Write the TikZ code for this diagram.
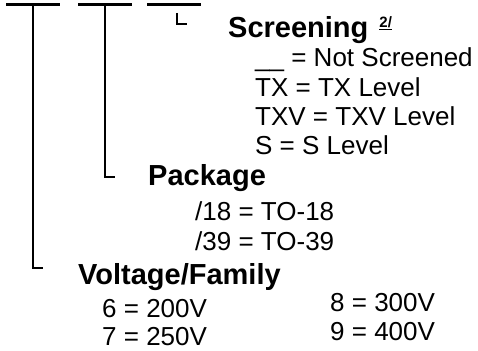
\documentclass[tikz,border=0pt]{standalone}
\usepackage{fontspec}
\setmainfont{Liberation Sans}
\begin{document}
\begin{tikzpicture}[x=1pt, y=-1pt,
    bar/.style={fill=black, inner sep=0pt, minimum width=54pt, minimum height=3pt},
    head/.style={anchor=base west, inner sep=0pt, font=\fontsize{29}{32}\bfseries},
    entry/.style={anchor=base west, inner sep=0pt, font=\fontsize{26}{30}\selectfont},
    lead/.style={line width=1.5pt}]
  \useasboundingbox (0,0) rectangle (478,350);
  % part number blanks
  \node[bar] (voltbar) at (33,4.8) {};
  \node[bar] (pkgbar) at (105,4.8) {};
  \node[bar] (scrbar) at (174,4.8) {};

  % screening
  \node[head] (scr) at (228,38) {Screening\hspace{11pt}\raisebox{10pt}{\fontsize{15}{15}\selectfont\underline{2/}}};
  \node[entry] (notscr) at (255,67) {\_\_ = Not Screened};
  \node[entry] (tx) at (255,96) {TX = TX Level};
  \node[entry] (txv) at (255,125) {TXV = TXV Level};
  \node[entry] (slev) at (255,154) {S = S Level};

  % package
  \node[head] (pkg) at (148,185) {Package};
  \node[entry] (to18) at (195,220) {/18 = TO-18};
  \node[entry] (to39) at (195,250) {/39 = TO-39};

  % voltage / family
  \node[head] (volt) at (78,284) {Voltage/Family};
  \node[entry] (v6) at (102,317) {6 = 200V};
  \node[entry] (v7) at (102,345) {7 = 250V};
  \node[entry] (v8) at (330,311) {8 = 300V};
  \node[entry] (v9) at (330,340) {9 = 400V};

  % leads
  \coordinate (volttick) at (43,268);
  \coordinate (pkgtick) at (115,177);
  \coordinate (scrtop) at (177,13);
  \coordinate (scrtick) at (187,24);
  \draw[lead] (voltbar.south) |- (volttick);
  \draw[lead] (pkgbar.south) |- (pkgtick);
  \draw[line width=1.2pt] (scrtop) |- (scrtick);
\end{tikzpicture}
\end{document}
